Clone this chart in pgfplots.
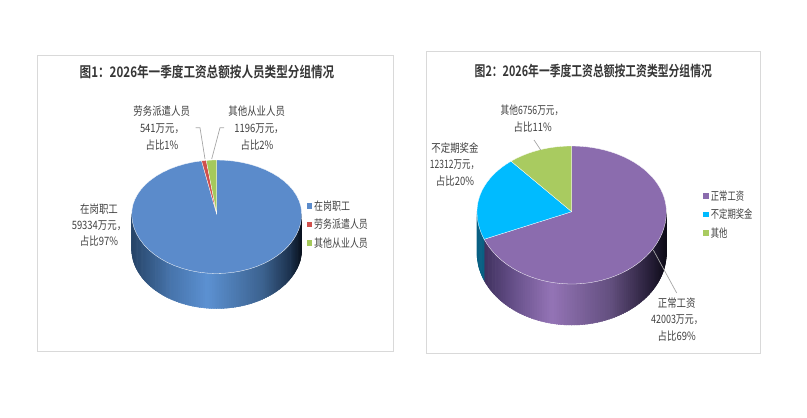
\documentclass[border=0pt]{standalone}
\usepackage{fontspec}
\usepackage{pgfplots}
\pgfplotsset{compat=1.18}
\setmainfont{Noto Sans CJK SC}[FakeStretch=0.82]
\newfontfamily\titlefont{Noto Sans CJK SC Bold}[FakeStretch=0.80]
\newfontfamily\titlefontb{Noto Sans CJK SC Bold}[FakeStretch=0.745]
\definecolor{txt}{HTML}{404040}
\definecolor{frm}{HTML}{D9D9D9}
\definecolor{ldr}{HTML}{A6A6A6}
\definecolor{aA}{HTML}{5B8BCB}
\definecolor{aB}{HTML}{D0504D}
\definecolor{aC}{HTML}{A5C95B}
\definecolor{bA}{HTML}{8B6CAE}
\definecolor{bB}{HTML}{00BBFF}
\definecolor{bC}{HTML}{A9CB60}
% top face sector: cx, cy, rx, ry up, ry down, from, to, colour
\newcommand{\sector}[8]{%
  \addplot[fill=#8,draw=white,line width=0.3pt,domain=#6:#7,samples=61,variable=\t,no marks]
    ({#1+#3*sin(\t)},{#2-(cos(\t)>0 ? #4 : #5)*cos(\t)}) -- (axis cs:#1,#2) -- cycle;}
% wall: cx, cy, rx, ry, h, from, to, strips, colormap
\newcommand{\wall}[9]{%
  \foreach \k in {1,...,#8}{%
    \pgfmathsetmacro\ta{#6+(#7-#6)/#8*(\k-1)}%
    \pgfmathsetmacro\tb{#6+(#7-#6)/#8*\k+0.4}%
    \pgfmathsetmacro\xa{#1+#3*sin(\ta)}%
    \pgfmathsetmacro\xb{#1+#3*sin(\tb)}%
    \pgfmathsetmacro\ya{#2-#4*cos(\ta)}%
    \pgfmathsetmacro\yb{#2-#4*cos(\tb)}%
    \pgfmathsetmacro\yc{\yb+#5}%
    \pgfmathsetmacro\yd{\ya+#5}%
    \pgfmathtruncatemacro\pos{1000*(0.5+0.5*sin(0.5*(\ta+\tb)))}%
    \edef\temp{\noexpand\addplot[color of colormap={\pos\space of #9},fill=.,draw=.,line width=0.5pt,no marks]
      coordinates {(\xa,\ya)(\xb,\yb)(\xb,\yc)(\xa,\yd)} -- cycle;}%
    \temp
  }}
\pgfplotsset{
  colormap={wallA}{rgb255(0cm)=(38,68,104) rgb255(2.2cm)=(70,115,170) rgb255(4.4cm)=(92,145,210) rgb255(7.7cm)=(60,98,143) rgb255(9.3cm)=(28,50,78) rgb255(10cm)=(8,16,28)},
  colormap={wallB}{rgb255(0cm)=(55,42,85) rgb255(2cm)=(105,82,140) rgb255(3.9cm)=(148,116,182) rgb255(7cm)=(100,80,128) rgb255(9cm)=(42,33,60) rgb255(10cm)=(12,10,22)},
  colormap={wallC}{rgb255(0cm)=(8,95,130) rgb255(10cm)=(14,125,165)},
}
\newcommand{\lab}[4][]{\node[font=\fontsize{11.5}{12}\selectfont,text=txt,inner sep=0pt,anchor=center,#1] at (axis cs:#2,#3) {#4};}
\begin{document}
\begin{tikzpicture}
\begin{axis}[width=807pt,height=418pt,scale only axis,hide axis,clip=false,
  xmin=0,xmax=807,ymin=0,ymax=418,y dir=reverse]
\path (axis cs:0,0) rectangle (axis cs:807,418);
\draw[frm,line width=0.8pt] (axis cs:37.5,55) rectangle (axis cs:393.5,351.5);
\draw[frm,line width=0.8pt] (axis cs:426,51.5) rectangle (axis cs:760.5,353);
% ---------- chart 1: 59334, 541, 1196 (total 61071)
\wall{216.7}{214}{85}{59.5}{35}{90}{270}{110}{wallA}
\sector{216.7}{214}{85}{54}{59.5}{0}{349.76}{aA}
\sector{216.7}{214}{85}{54}{59.5}{349.76}{352.95}{aB}
\sector{216.7}{214}{85}{54}{59.5}{352.95}{360}{aC}
\addplot[ldr,line width=0.7pt,no marks] coordinates {(195.7,127.7)(200,127.7)(205,159)};
\addplot[ldr,line width=0.7pt,no marks] coordinates {(224,127.7)(220,127.7)(211.7,159)};
\node[font=\fontsize{14.5}{15}\titlefont,text=txt!85!black,inner sep=0pt] at (axis cs:207,72) {图1：2026年一季度工资总额按人员类型分组情况};
\lab{161.7}{111.5}{劳务派遣人员}
\lab{162}{128.5}{541万元，}
\lab{162}{145}{占比1\%}
\lab{256.7}{111.5}{其他从业人员}
\lab{259}{128.5}{1196万元，}
\lab{257}{145}{占比2\%}
\lab{99}{209}{在岗职工}
\lab{99}{226}{59334万元，}
\lab{99}{241.5}{占比97\%}
\addplot[only marks,mark=square*,mark size=2.2pt,aA] coordinates {(309.3,205.7)};
\addplot[only marks,mark=square*,mark size=2.2pt,aB] coordinates {(309.3,224.3)};
\addplot[only marks,mark=square*,mark size=2.2pt,aC] coordinates {(309.3,242.7)};
\lab[anchor=west]{314}{205.7}{\scalebox{0.95}[1]{在岗职工}}
\lab[anchor=west]{314}{224.3}{\scalebox{0.95}[1]{劳务派遣人员}}
\lab[anchor=west]{314}{242.7}{\scalebox{0.95}[1]{其他从业人员}}
% ---------- chart 2: 42003, 12312, 6756 (total 61071)
\wall{571.7}{211.7}{94.7}{72.3}{41}{90}{247.6}{100}{wallB}
\wall{571.7}{211.7}{94.7}{72.3}{41}{247.6}{270}{10}{wallC}
\sector{571.7}{211.7}{94.7}{65.7}{72.3}{0}{247.6}{bA}
\sector{571.7}{211.7}{94.7}{65.7}{72.3}{247.6}{320.2}{bB}
\sector{571.7}{211.7}{94.7}{65.7}{72.3}{320.2}{360}{bC}
\addplot[ldr,line width=0.7pt,no marks] coordinates {(534,140)(540.7,150)};
\addplot[ldr,line width=0.7pt,no marks] coordinates {(653.3,250)(676.7,293)};
\node[font=\fontsize{14.5}{15}\titlefontb,text=txt!85!black,inner sep=0pt] at (axis cs:593.3,70.7) {图2：2026年一季度工资总额按工资类型分组情况};
\lab{532}{110}{\scalebox{0.92}[1]{其他6756万元，}}
\lab{532.7}{127}{占比11\%}
\lab{455}{147.7}{不定期奖金}
\lab{454.5}{164.5}{\scalebox{0.9}[1]{12312万元，}}
\lab{455}{181}{占比20\%}
\lab{676.7}{302.7}{正常工资}
\lab{677}{320}{\scalebox{0.95}[1]{42003万元，}}
\lab{676.7}{336}{占比69\%}
\addplot[only marks,mark=square*,mark size=2.2pt,bA] coordinates {(705.7,195.7)};
\addplot[only marks,mark=square*,mark size=2.2pt,bB] coordinates {(705.7,214)};
\addplot[only marks,mark=square*,mark size=2.2pt,bC] coordinates {(705.7,232.7)};
\lab[anchor=west]{710.7}{195.7}{\scalebox{0.88}[1]{正常工资}}
\lab[anchor=west]{710.7}{214}{\scalebox{0.88}[1]{不定期奖金}}
\lab[anchor=west]{710.7}{232.7}{\scalebox{0.88}[1]{其他}}
\end{axis}
\end{tikzpicture}
\end{document}
